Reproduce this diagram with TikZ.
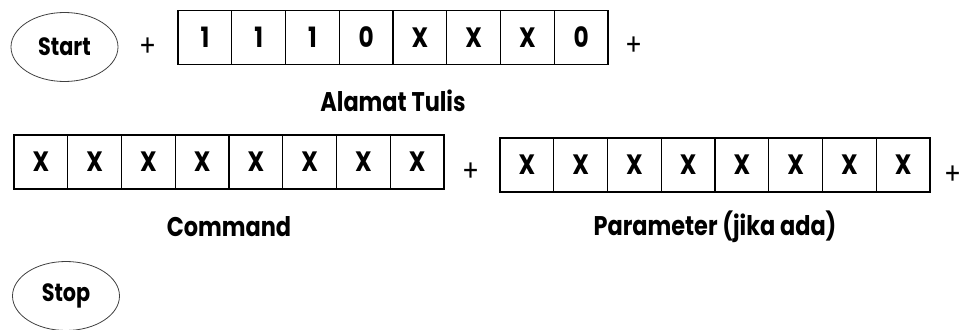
\documentclass[tikz,border=0pt]{standalone}
\usepackage{fontspec}
\setmainfont{Poppins}[FakeStretch=0.83]
\usetikzlibrary{shapes.geometric}
\begin{document}
\begin{tikzpicture}[x=1pt,y=-1pt,
  cell/.style={draw,line width=1.2pt,minimum width=53.75pt,minimum height=54pt,inner sep=0pt,font=\bfseries\fontsize{28}{32}\selectfont},
  term/.style={draw=black!75,ellipse,line width=0.8pt,minimum width=107pt,minimum height=69pt,inner sep=0pt,font=\bfseries\fontsize{25}{30}\selectfont},
  plus/.style={font=\fontsize{30}{34}\selectfont,inner sep=0pt},
  lbl/.style={font=\bfseries\fontsize{27}{32}\selectfont,inner sep=0pt}]
\useasboundingbox (0,0) rectangle (965,329);
\node[term] (start) at (64.5,47) {Start};
\node[plus] (p1) at (148,47) {+};
\foreach \t [count=\i] in {1,1,1,0,X,X,X,0}
  \node[cell] (a\i) at ({178+53.75*(\i-0.5)},37.5) {\t};
\node[plus] (p2) at (634,46) {+};
\node[lbl] (alamat) at (393,101) {Alamat Tulis};
\foreach \i in {1,...,8}
  \node[cell] (c\i) at ({14+53.75*(\i-0.5)},162) {X};
\node[plus] (p3) at (471,172) {+};
\foreach \i in {1,...,8}
  \node[cell] (r\i) at ({500+53.75*(\i-0.5)},165) {X};
\node[plus] (p4) at (953,175) {+};
\node[lbl] (command) at (229,227) {Command};
\node[lbl] (param) at (715,227) {Parameter (jika ada)};
\node[term] (stop) at (66,296) {Stop};
\end{tikzpicture}
\end{document}
